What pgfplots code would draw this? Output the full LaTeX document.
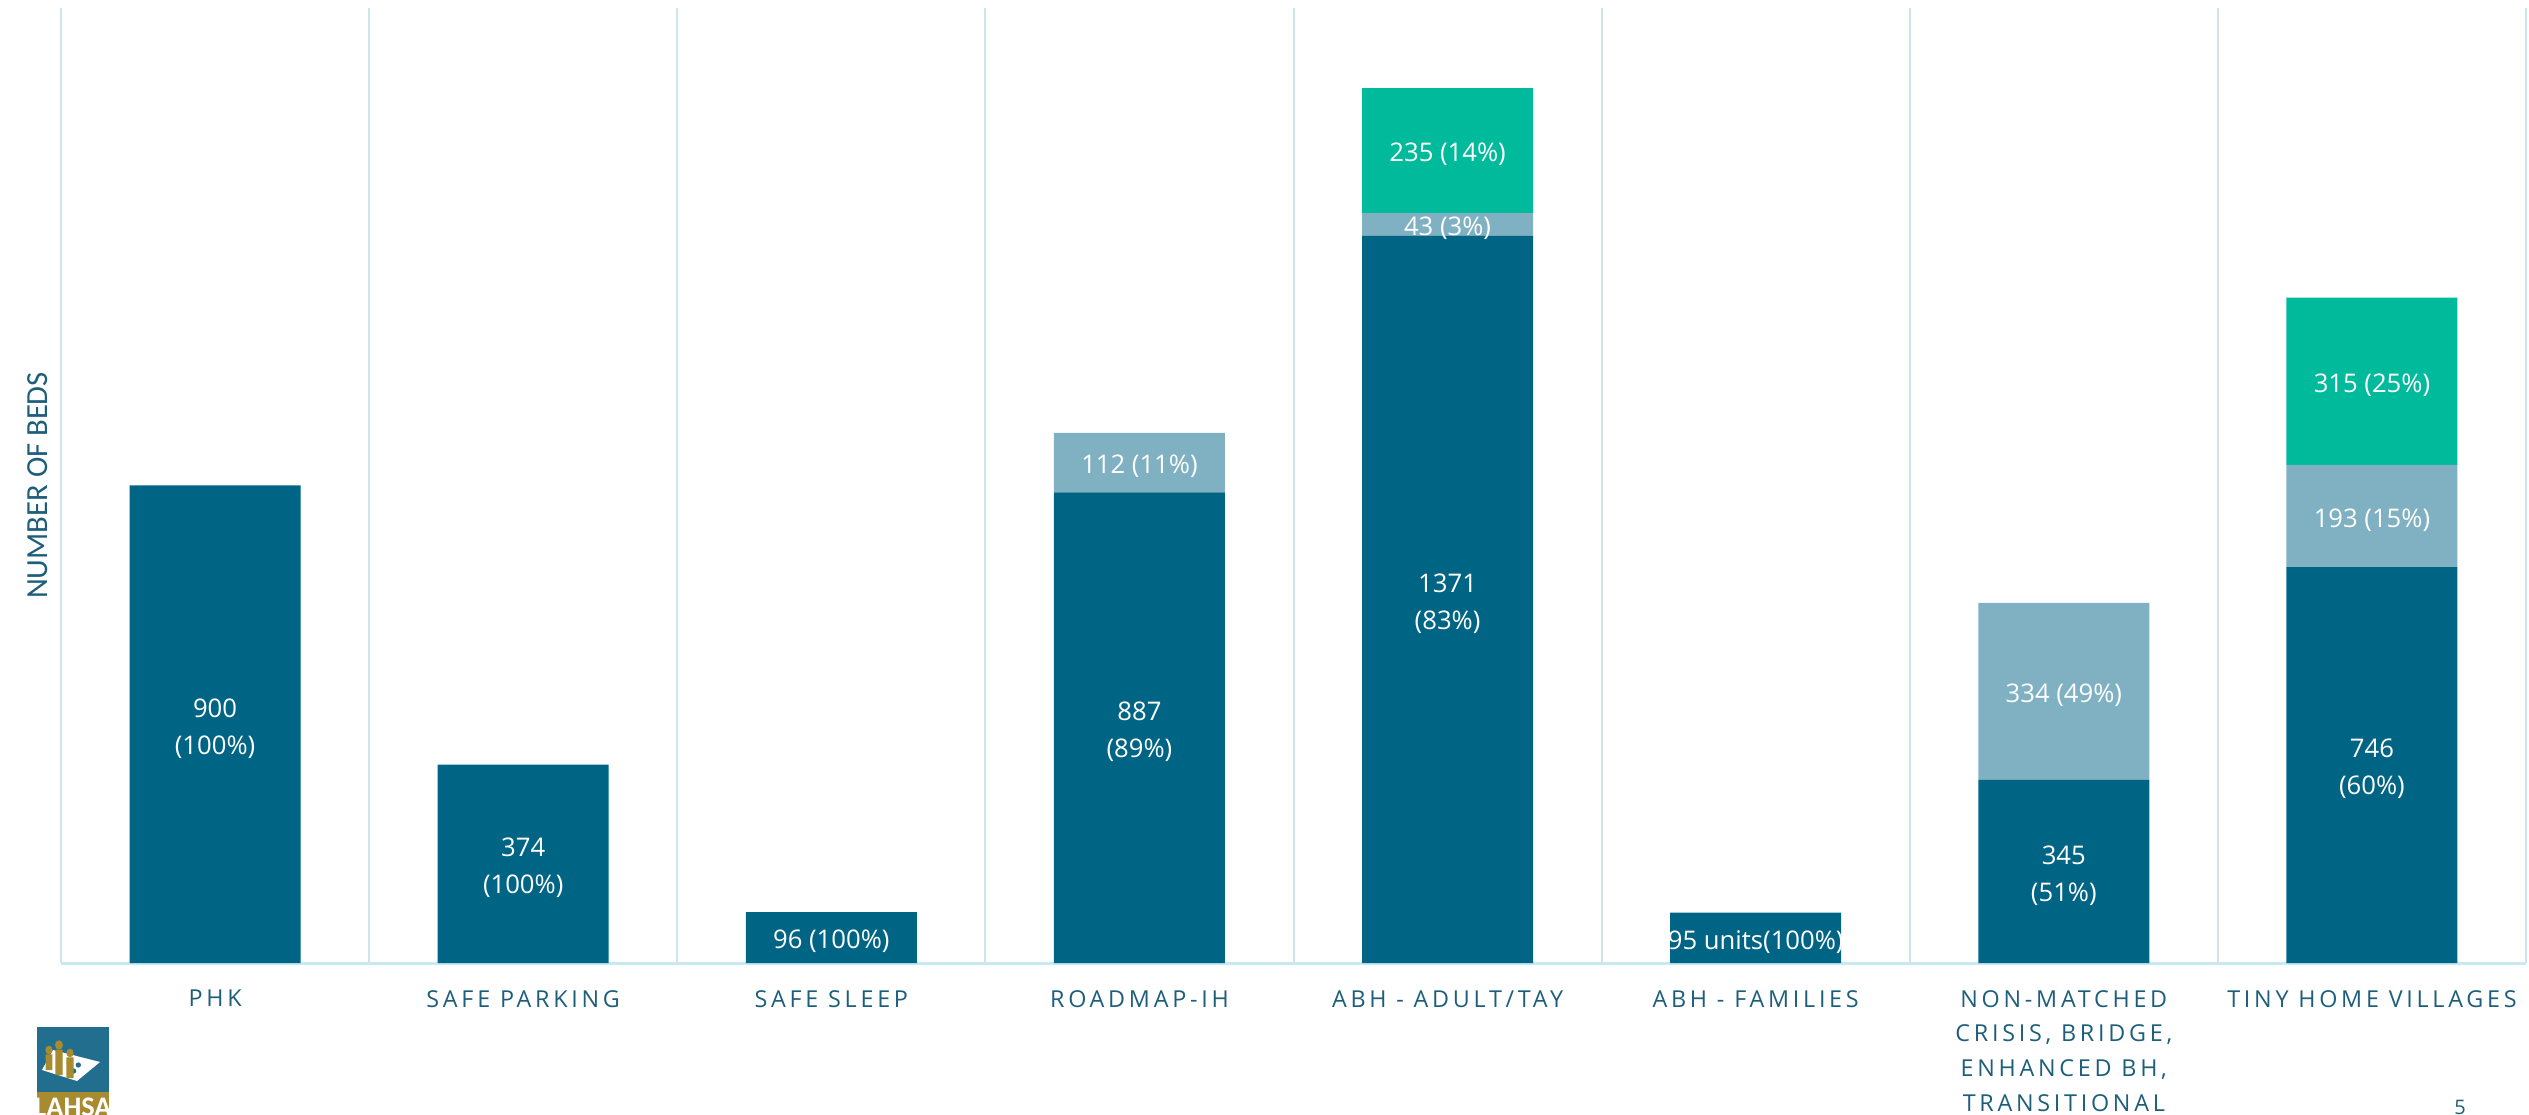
\documentclass[border=0pt]{standalone}
\usepackage{pgfplots}
\pgfplotsset{compat=1.18}
\usepackage{pgfplotstable}
\usepackage{fontspec}
\setmainfont{Open Sans}
\newfontfamily\tickfont[LetterSpace=16]{Open Sans}
\newfontfamily\ylabfont{Carlito}
\definecolor{cdark}{HTML}{006585}
\definecolor{clight}{HTML}{7FB1C2}
\definecolor{cgreen}{HTML}{00BA9C}
\definecolor{csep}{HTML}{CFE3EC}
\definecolor{cbase}{HTML}{C8E8F4}
\definecolor{ctext}{HTML}{1D5E7B}
\definecolor{cgold}{HTML}{A88B2F}
\definecolor{clogo}{HTML}{216E8E}

\pgfplotstableread{
x y label
0 900 {900\\(100\%)}
1 374 {374\\(100\%)}
2 96 {96 (100\%)}
3 887 {887\\(89\%)}
4 1371 {1371\\(83\%)}
5 95 {95 units(100\%)}
6 345 {345\\(51\%)}
7 746 {746\\(60\%)}
}\tabA
\pgfplotstableread{
x y label
0 0 {}
1 0 {}
2 0 {}
3 112 {112 (11\%)}
4 43 {43 (3\%)}
5 0 {}
6 334 {334 (49\%)}
7 193 {193 (15\%)}
}\tabB
\pgfplotstableread{
x y label
0 0 {}
1 0 {}
2 0 {}
3 0 {}
4 235 {235 (14\%)}
5 0 {}
6 0 {}
7 315 {315 (25\%)}
}\tabC

\begin{document}
\begin{tikzpicture}
\begin{axis}[
  name=ax,
  scale only axis,
  width=739.5pt, height=286.5pt,
  ybar stacked,
  bar width=0.555,
  xmin=-0.5, xmax=7.5, ymin=0, ymax=1800,
  enlargelimits=false,
  axis x line*=bottom,
  axis y line*=left,
  y axis line style={draw=none},
  x axis line style={draw=cbase, line width=0.9pt, -},
  ytick=\empty,
  xtick={0,...,7},
  xticklabels={PHK, SAFE PARKING, SAFE SLEEP, ROADMAP-IH, ABH - ADULT/TAY, ABH - FAMILIES, {NON-MATCHED\\CRISIS, BRIDGE,\\ENHANCED BH,\\TRANSITIONAL}, TINY HOME VILLAGES},
  major tick length=0pt,
  minor tick length=0pt,
  minor xtick={-0.5,0.5,...,7.5},
  xminorgrids=true,
  minor grid style={draw=csep, line width=0.6pt},
  xticklabel style={font=\tickfont\fontsize{7}{10.4}\selectfont, text=ctext, align=center, anchor=north, inner sep=0pt, yshift=-8pt},
  ylabel={\ylabfont\fontsize{9.2}{11}\selectfont NUMBER OF BEDS},
  every axis y label/.style={at={(axis description cs:-0.0095,0.5)}, rotate=90, anchor=center, text=ctext},
  nodes near coords,
  point meta=explicit symbolic,
  every node near coord/.append style={anchor=center, align=center, text=white, font=\fontsize{7.7}{11.1}\selectfont, inner sep=0pt, yshift=-1.2pt},
]
\addplot[fill=cdark, draw=none] table[x=x, y=y, meta=label] {\tabA};
\addplot[fill=clight, draw=none] table[x=x, y=y, meta=label] {\tabB};
\addplot[fill=cgreen, draw=none] table[x=x, y=y, meta=label] {\tabC};
\end{axis}
% logo
\begin{scope}[shift={(ax.south west)}]
\fill[clogo] (-7.2pt,-19.2pt) rectangle (14.4pt,-38.7pt);
\fill[cgold] (-7.2pt,-38.7pt) rectangle (14.4pt,-48pt);
\fill[white] (-2.4pt,-26.1pt) -- (11.7pt,-29.7pt) -- (4.8pt,-35.4pt) -- (-5.7pt,-32.1pt) -- cycle;
\fill[clogo] (2.5pt,-30.2pt) circle (0.8pt) (5.2pt,-30.6pt) circle (0.8pt) (3.8pt,-32.4pt) circle (0.8pt);
\fill[cgold] (-3.6pt,-26.1pt) ellipse (1.1pt and 1.3pt) (-0.6pt,-24.6pt) ellipse (1.2pt and 1.4pt) (2.7pt,-27pt) ellipse (1.1pt and 1.3pt);
\fill[cgold] (-4.6pt,-27.4pt) rectangle (-2.6pt,-32.1pt) (-1.7pt,-26pt) rectangle (0.5pt,-33.6pt) (1.6pt,-28.3pt) rectangle (3.8pt,-34.5pt);
\node[anchor=north, text=white, font=\ylabfont\bfseries\fontsize{8.5}{8.5}\selectfont, inner sep=0pt] at (3.6pt,-40.3pt) {LAHSA};
\node[text=ctext, font=\fontsize{6}{6}\selectfont, inner sep=0pt] at (719.7pt,-43.2pt) {5};
\end{scope}
\pgfresetboundingbox
\path ([xshift=-18.3pt,yshift=-45.3pt]ax.south west) rectangle ([xshift=0.9pt,yshift=2.4pt]ax.north east);
\end{tikzpicture}
\end{document}
